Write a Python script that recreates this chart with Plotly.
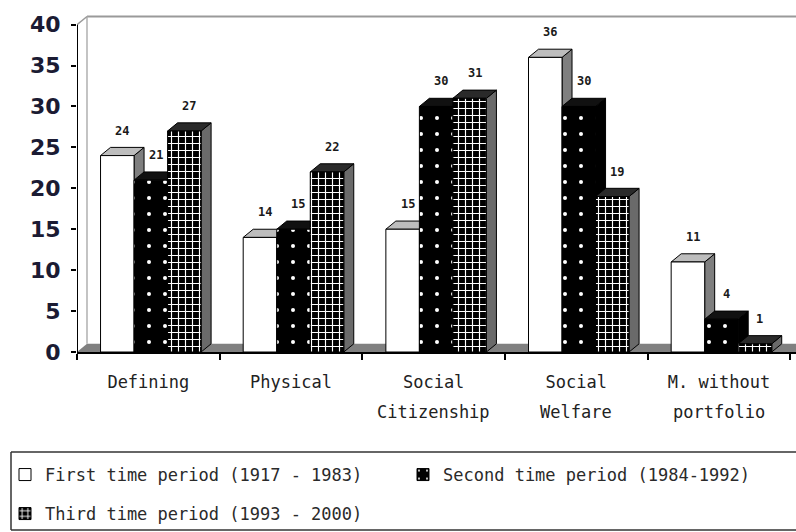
import plotly.graph_objects as go

categories = ["Defining", "Physical", "Social Citizenship", "Social Welfare", "M. without portfolio"]
tick_line1 = ["Defining", "Physical", "Social", "Social", "M. without"]
tick_line2 = ["", "", "Citizenship", "Welfare", "portfolio"]
series_names = ["First time period (1917 - 1983)",
                "Second time period (1984-1992)",
                "Third time period (1993 - 2000)"]
first_period = [24, 14, 15, 36, 11]
second_period = [21, 15, 30, 30, 4]
third_period = [27, 22, 31, 19, 1]
y_ticks = [0, 5, 10, 15, 20, 25, 30, 35, 40]

series_values = [first_period, second_period, third_period]

# styling / geometry
W = 0.235                     # bar front width (category units)
OFFSETS = [-0.335, -0.100, 0.135]
DX, DY = 0.07, 1.0            # 3D depth offset
X_MAX = 4.54
Y_MAX = 41.3
top_col = ["#bdbdbd", "#111111", "#2a2a2a"]
side_col = ["#7f7f7f", "#000000", "#6a6a6a"]
patterns = [
    dict(shape=""),
    dict(shape=".", fgcolor="white", bgcolor="black", size=16, solidity=0.05, fillmode="replace"),
    dict(shape="+", fgcolor="white", bgcolor="black", size=7, solidity=0.3, fillmode="replace"),
]
base_colors = ["white", "black", "black"]
legend_ids = ["legend", "legend2", "legend3"]
LABEL_FONT = "DejaVu Sans Mono"

xs = list(range(len(categories)))
fig = go.Figure()

shapes = []
# floor
shapes.append(dict(type="path", xref="x", yref="y", layer="below",
                   path=f"M -0.5,0 L {X_MAX},0 L {X_MAX},{DY} L {-0.5+DX},{DY} Z",
                   fillcolor="#808080", line=dict(width=0)))
# walls
shapes.append(dict(type="line", xref="x", yref="y", layer="below",
                   x0=-0.5 + DX, x1=X_MAX, y0=y_ticks[-1] + DY, y1=y_ticks[-1] + DY,
                   line=dict(color="#9a9a9a", width=2)))
shapes.append(dict(type="line", xref="x", yref="y", layer="below",
                   x0=-0.5 + DX, x1=-0.5 + DX, y0=DY, y1=y_ticks[-1] + DY,
                   line=dict(color="#b0b0b0", width=1.5)))
shapes.append(dict(type="line", xref="x", yref="y", layer="below",
                   x0=-0.5, x1=-0.5 + DX, y0=y_ticks[-1], y1=y_ticks[-1] + DY,
                   line=dict(color="#9a9a9a", width=1.5)))
# y axis line
shapes.append(dict(type="line", xref="x", yref="y", layer="above",
                   x0=-0.5, x1=-0.5, y0=0, y1=y_ticks[-1],
                   line=dict(color="black", width=2)))

annotations = []
for s, vals in enumerate(series_values):
    for i, v in zip(xs, vals):
        x0 = i + OFFSETS[s]
        x1 = x0 + W
        shapes.append(dict(type="path", xref="x", yref="y", layer="below",
                           path=f"M {x1},0 L {x1+DX},{DY} L {x1+DX},{v+DY} L {x1},{v} Z",
                           fillcolor=side_col[s], line=dict(color="black", width=1)))
        shapes.append(dict(type="path", xref="x", yref="y", layer="below",
                           path=f"M {x0},{v} L {x1},{v} L {x1+DX},{v+DY} L {x0+DX},{v+DY} Z",
                           fillcolor=top_col[s], line=dict(color="black", width=1)))
        annotations.append(dict(x=x0 + W / 2 + DX / 2, y=v, xref="x", yref="y",
                                text=f"<b>{v}</b>", showarrow=False, yshift=25,
                                font=dict(family=LABEL_FONT, size=12, color="#1a1a1a"),
                                ))
    fig.add_trace(go.Bar(
        x=xs, y=vals, name=series_names[s], offset=OFFSETS[s], width=W,
        marker=dict(color=base_colors[s], pattern=patterns[s],
                    line=dict(color="black", width=1)),
        legend=legend_ids[s],
        hoverinfo="skip",
    ))

for i, t in zip(xs, tick_line2):
    if t:
        annotations.append(dict(x=i, y=0, xref="x", yref="paper", text=t,
                                showarrow=False, yshift=-60, yanchor="middle",
                                font=dict(family=LABEL_FONT, size=17, color="#222222")))

PLOT_BOTTOM = 352
PLOT_H = 338
def py(p):
    return (PLOT_BOTTOM - p) / PLOT_H
def px(p):
    return (p - 77) / 719

# legend box (open on the right, running off the page as in the original)
box_line = dict(color="#333333", width=1.5)
for (a, b, c, d) in [(11, 452, 830, 452), (11, 530, 830, 530), (11, 452, 11, 530)]:
    shapes.append(dict(type="line", xref="paper", yref="paper",
                       x0=px(a), y0=py(b), x1=px(c), y1=py(d), line=box_line))

leg_common = dict(orientation="h", xanchor="left", yanchor="middle", itemwidth=30,
                  borderwidth=0, bgcolor="rgba(0,0,0,0)",
                  font=dict(family=LABEL_FONT, size=17, color="#2a2a2a"))

fig.update_layout(
    width=796, height=532,
    margin=dict(l=77, r=0, t=14, b=180, autoexpand=False),
    paper_bgcolor="white", plot_bgcolor="white",
    barmode="overlay",
    shapes=shapes,
    annotations=annotations,
    xaxis=dict(range=[-0.5, X_MAX], tickmode="array", tickvals=xs, ticktext=tick_line1,
               ticks="", showline=True, linecolor="black", linewidth=2,
               showgrid=False, zeroline=False, ticklabelstandoff=14,
               tickfont=dict(family=LABEL_FONT, size=17, color="#222222"),
               minor=dict(tickmode="array", tickvals=[i - 0.5 for i in range(len(categories) + 1)],
                          ticks="outside", ticklen=6, tickwidth=2, tickcolor="black", showgrid=False)),
    yaxis=dict(range=[0, Y_MAX], tickmode="array", tickvals=y_ticks, ticks="outside",
               ticklen=5, tickwidth=2, tickcolor="black", showline=False, showgrid=False,
               zeroline=False, ticklabelstandoff=6,
               tickfont=dict(family="DejaVu Sans", size=22, color="#1b1b33", weight="bold")),
    legend=dict(x=px(5), y=py(475), **leg_common),
    legend2=dict(x=px(403), y=py(475), **leg_common),
    legend3=dict(x=px(5), y=py(514), **leg_common),
    showlegend=True,
)

fig.write_html("out.html", config={"displayModeBar": False},
               post_script="document.body.style.margin='0';document.body.style.overflow='hidden';")
